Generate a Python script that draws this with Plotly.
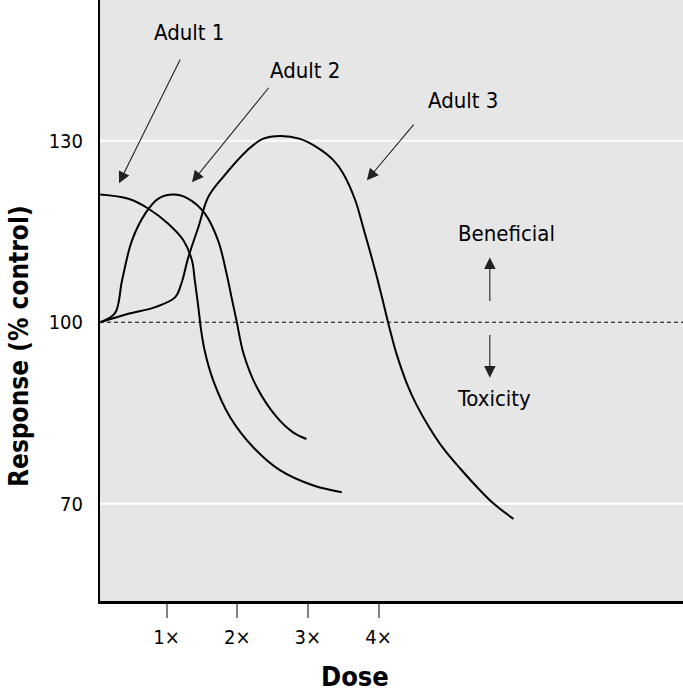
import plotly.graph_objects as go

# ---- data ----
adult1_dose = [0.06, 0.46, 0.74, 1.02, 1.24, 1.36, 1.40, 1.45, 1.49, 1.54, 1.66, 1.90, 2.23, 2.61, 3.08, 3.48]
adult1_resp = [121.1, 120.4, 118.8, 116.3, 113.5, 110.2, 106.9, 102.5, 98.6, 95.3, 90.4, 84.3, 79.3, 75.5, 73.0, 71.9]

adult2_dose = [0.06, 0.27, 0.37, 0.51, 0.70, 0.88, 1.10, 1.31, 1.54, 1.73, 1.85, 1.92, 1.99, 2.09, 2.28, 2.56, 2.79, 2.98]
adult2_resp = [100.0, 101.5, 106.9, 113.5, 118.0, 120.4, 121.1, 120.4, 118.0, 113.5, 108.0, 104.1, 100.3, 94.8, 89.2, 84.3, 81.8, 80.7]

adult3_dose = [0.06, 0.46, 0.84, 1.12, 1.21, 1.31, 1.45, 1.59, 1.80, 2.14, 2.36, 2.61, 2.89, 3.13, 3.36, 3.50,
               3.67, 3.78, 3.88, 3.97, 4.05, 4.12, 4.19, 4.26, 4.40, 4.54, 4.73, 4.92, 5.15, 5.39, 5.62, 5.91]
adult3_resp = [100.0, 101.4, 102.5, 104.1, 106.4, 110.8, 115.7, 120.7, 124.0, 128.4, 130.3, 130.8, 130.3, 128.9,
               126.8, 124.6, 120.2, 115.8, 111.7, 107.8, 104.1, 100.7, 97.5, 94.6, 89.9, 86.3, 82.4, 79.1,
               75.9, 72.8, 70.1, 67.5]

x_tick_vals = [1, 2, 3, 4]
x_tick_text = ["1\u00d7", "2\u00d7", "3\u00d7", "4\u00d7"]
y_tick_vals = [70, 100, 130]
y_tick_text = ["70", "100", "130"]
grid_levels = [70, 130]
control_level = 100

FONT = "DejaVu Sans Condensed, Liberation Sans Narrow, Roboto, sans-serif"

fig = go.Figure()
for xs, ys, name in [(adult1_dose, adult1_resp, "Adult 1"),
                     (adult2_dose, adult2_resp, "Adult 2"),
                     (adult3_dose, adult3_resp, "Adult 3")]:
    fig.add_trace(go.Scatter(x=xs, y=ys, mode="lines", name=name,
                             line=dict(color="black", width=2, shape="spline", smoothing=1.0),
                             hoverinfo="x+y+name"))

shapes = []
for g in grid_levels:
    shapes.append(dict(type="line", xref="paper", x0=0, x1=1, yref="y", y0=g, y1=g,
                       line=dict(color="white", width=2), layer="below"))
shapes.append(dict(type="line", xref="paper", x0=0, x1=1, yref="y", y0=control_level, y1=control_level,
                   line=dict(color="black", width=1, dash="4px,3px"), layer="below"))

ann = []
arrow_color = "#222222"
def label_arrow(text, tx, ty, x_tail, y_tail, x_tip, y_tip, size=22):
    ann.append(dict(x=tx, y=ty, xref="x", yref="y", text=text, showarrow=False,
                    font=dict(family=FONT, size=size, color="black")))
    ann.append(dict(x=x_tip, y=y_tip, ax=x_tail, ay=y_tail, xref="x", yref="y", axref="x", ayref="y",
                    text="", showarrow=True, arrowhead=2, arrowsize=2.1, arrowwidth=1.1,
                    arrowcolor=arrow_color, standoff=0, startstandoff=0))

label_arrow("Adult 1", 1.317, 147.96, 1.204, 143.66, 0.327, 122.96)
label_arrow("Adult 2", 2.958, 141.67, 2.463, 139.0, 1.360, 123.13)
label_arrow("Adult 3", 5.193, 136.7, 4.515, 132.9, 3.836, 123.46)
label_arrow("Beneficial", 5.817, 114.7, 5.576, 103.26, 5.576, 110.71)
label_arrow("Toxicity", 5.632, 87.37, 5.576, 98.13, 5.576, 90.84)

ann.append(dict(xref="paper", yref="paper", x=-0.139, y=0.4243, text="<b>Response (% control)</b>",
                textangle=-90, showarrow=False, xanchor="center", yanchor="middle",
                font=dict(family=FONT, size=26, color="black")))
ann.append(dict(xref="paper", yref="paper", x=0.437, y=-0.1248, text="<b>Dose</b>",
                showarrow=False, xanchor="center", yanchor="middle",
                font=dict(family=FONT, size=27, color="black")))

fig.update_layout(
    width=683, height=692,
    margin=dict(l=100, r=0, t=0, b=91),
    paper_bgcolor="white", plot_bgcolor="#e6e6e6",
    showlegend=False,
    shapes=shapes, annotations=ann,
    font=dict(family=FONT, size=20, color="black"),
)
fig.update_xaxes(range=[0.058, 8.31], tickvals=x_tick_vals, ticktext=x_tick_text,
                 ticks="outside", ticklen=14, tickwidth=1.5, tickcolor="#808080",
                 showgrid=False, zeroline=False, showline=True, linecolor="black", linewidth=2.5,
                 tickfont=dict(family=FONT, size=20, color="black"), ticklabelstandoff=2)
fig.update_yaxes(range=[53.92, 153.26], tickvals=y_tick_vals, ticktext=y_tick_text,
                 ticks="", showgrid=False, zeroline=False, showline=True, linecolor="black", linewidth=2,
                 tickfont=dict(family=FONT, size=20, color="black"), ticklabelstandoff=11)

fig.write_html("out.html", config={"displayModeBar": False},
               post_script="document.body.style.margin='0px';document.body.style.overflow='hidden';")
